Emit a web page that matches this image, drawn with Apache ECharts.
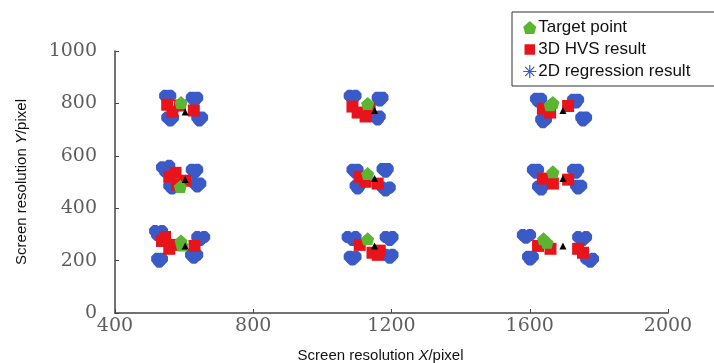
<!DOCTYPE html>
<html>
<head>
<meta charset="utf-8">
<script src="https://cdn.jsdelivr.net/npm/echarts@6/dist/echarts.min.js"></script>
<style>
  html, body { margin: 0; padding: 0; background: #fff; }
  #chart { width: 714px; height: 363px; }
</style>
</head>
<body>
<div id="chart"></div>
<script>
// axis ranges
const xTicks = [400, 800, 1200, 1600, 2000];
const yTicks = [0, 200, 400, 600, 800, 1000];

// target points (green)
const targetPoints = [
  [591, 803],
  [589, 483],
  [591, 275], [594, 260],
  [1131, 800],
  [1131, 532],
  [1131, 283],
  [1667, 803], [1659, 795],
  [1667, 539],
  [1640, 283], [1650, 270]
];

// cluster centres (black triangles)
const centerMarks = [
  [603, 767], [603, 510], [603, 256],
  [1151, 773], [1151, 513], [1151, 256],
  [1696, 773], [1696, 513], [1696, 256]
];

// 3D HVS result (red squares)
const hvsPoints = [
  [551, 795], [566, 768], [588, 792], [628, 773],
  [557, 520], [580, 490], [603, 505], [575, 535],
  [536, 275], [557, 245], [574, 260], [630, 256], [545, 290],
  [1087, 788], [1102, 765], [1125, 750], [1137, 780],
  [1108, 520], [1125, 501], [1160, 494],
  [1108, 260], [1145, 230], [1166, 238], [1160, 222],
  [1638, 780], [1659, 765], [1711, 790],
  [1638, 513], [1667, 494], [1711, 509],
  [1624, 256], [1740, 245], [1754, 230], [1660, 245]
];

// 2D regression result (blue asterisks)
const regressionPoints = [
  // x~600, y~780
  [545, 829], [560, 829], [551, 818],
  [622, 822], [638, 822], [630, 811],
  [551, 746], [568, 746], [560, 735],
  [638, 746], [652, 746], [644, 735],
  // x~600, y~515
  [536, 556], [557, 562], [545, 540], [560, 545],
  [622, 547], [638, 547], [630, 535],
  [557, 486], [572, 486], [565, 475],
  [630, 494], [647, 494], [638, 483],
  // x~600, y~260
  [516, 313], [536, 313], [522, 298], [540, 298],
  [638, 290], [658, 290], [647, 279],
  [522, 207], [536, 207], [528, 196],
  [620, 222], [638, 222], [628, 211],
  // x~1150, y~780
  [1079, 829], [1096, 829], [1087, 818],
  [1160, 822], [1174, 822], [1166, 811],
  [1151, 750], [1166, 750], [1160, 739],
  // x~1150, y~515
  [1087, 547], [1102, 547], [1096, 535],
  [1174, 550], [1189, 550], [1183, 539],
  [1096, 486], [1108, 486], [1102, 475],
  [1174, 479], [1195, 479], [1183, 468],
  // x~1150, y~260
  [1073, 290], [1096, 290], [1087, 279],
  [1183, 290], [1203, 290], [1195, 279],
  [1079, 215], [1096, 215], [1087, 204],
  [1183, 222], [1203, 222], [1195, 211],
  // x~1700, y~780
  [1618, 818], [1633, 818], [1624, 807],
  [1725, 814], [1740, 814], [1734, 803],
  [1749, 746], [1763, 746], [1754, 735],
  [1633, 739], [1647, 739], [1638, 728],
  // x~1700, y~515
  [1609, 547], [1624, 547], [1618, 535],
  [1725, 547], [1740, 547], [1734, 535],
  [1624, 483], [1638, 483], [1633, 471],
  [1734, 486], [1749, 486], [1740, 475],
  // x~1700, y~260
  [1580, 298], [1601, 298], [1589, 287],
  [1740, 290], [1763, 290], [1754, 279],
  [1595, 215], [1609, 215], [1601, 204],
  [1763, 207], [1783, 207], [1775, 196]
];

const pentagon = 'path://M5,0 L10,4.5 L8.5,10 L1.5,10 L0,4.5 Z';
const asterisk = 'path://M0,5 L10,5 M5,0 L5,10 M1.5,1.5 L8.5,8.5 M8.5,1.5 L1.5,8.5';

const chart = echarts.init(document.getElementById('chart'));

const tickFont = {
  fontFamily: '"DejaVu Serif", serif',
  fontSize: 19,
  color: '#5e5e5e',
  formatter: v => String(v)
};
const nameRich = {
  a: { fontFamily: '"Liberation Sans", Arial, sans-serif', fontSize: 15, color: '#111' },
  i: { fontFamily: '"Liberation Sans", Arial, sans-serif', fontSize: 15, color: '#111', fontStyle: 'italic' }
};

const option = {
  animation: false,
  grid: { left: 115, right: 46, top: 51, bottom: 50, outerBoundsMode: 'none', containLabel: false },
  legend: {
    orient: 'vertical',
    left: 512,
    top: 12,
    padding: [7, 120, 6, 10],
    itemGap: 5,
    itemWidth: 13,
    itemHeight: 13,
    backgroundColor: '#fff',
    borderColor: '#333',
    borderWidth: 1,
    textStyle: { fontFamily: '"Liberation Sans", Arial, sans-serif', fontSize: 17, color: '#111', padding: [0, 0, 0, -3] },
    data: [
      { name: 'Target point', icon: pentagon, itemStyle: { color: '#5bb531' } },
      { name: '3D HVS result', icon: 'rect', itemStyle: { color: '#e8141c', borderColor: '#fff', borderWidth: 2.5 } },
      { name: '2D regression result', icon: asterisk, itemStyle: { color: 'transparent', borderColor: '#3a5bc7', borderWidth: 1.2 } }
    ]
  },
  xAxis: {
    type: 'value',
    min: xTicks[0],
    max: xTicks[xTicks.length - 1],
    interval: 400,
    name: '{a|Screen resolution }{i|X}{a|/pixel}',
    nameLocation: 'middle',
    nameGap: 35,
    nameTextStyle: { rich: nameRich, padding: [0, 22, 0, 0] },
    axisLine: { lineStyle: { color: '#444', width: 1.5 } },
    axisTick: { inside: true, length: 4, lineStyle: { color: '#444' } },
    axisLabel: Object.assign({ margin: 4 }, tickFont),
    splitLine: { show: false }
  },
  yAxis: {
    type: 'value',
    min: yTicks[0],
    max: yTicks[yTicks.length - 1],
    interval: 200,
    name: '{a|Screen resolution }{i|Y}{a|/pixel}',
    nameLocation: 'middle',
    nameGap: 86,
    nameRotate: 90,
    nameTextStyle: { rich: nameRich },
    axisLine: { show: true, lineStyle: { color: '#444', width: 1.5 } },
    axisTick: { show: true, inside: true, length: 4, lineStyle: { color: '#444' } },
    axisLabel: Object.assign({ margin: 18 }, tickFont),
    splitLine: { show: false }
  },
  series: [
    {
      name: '2D regression result',
      type: 'scatter',
      symbol: asterisk,
      symbolSize: 12,
      z: 2,
      itemStyle: { color: 'transparent', borderColor: '#3a5bc7', borderWidth: 4.5, opacity: 1 },
      data: regressionPoints
    },
    {
      name: '3D HVS result',
      type: 'scatter',
      symbol: 'rect',
      symbolSize: 12,
      z: 3,
      itemStyle: { color: '#e8141c', opacity: 1 },
      data: hvsPoints
    },
    {
      name: 'Target point',
      type: 'scatter',
      symbol: pentagon,
      symbolSize: 13,
      z: 4,
      itemStyle: { color: '#5bb531', opacity: 1 },
      data: targetPoints
    },
    {
      name: 'centre',
      type: 'scatter',
      symbol: 'triangle',
      symbolSize: 7,
      z: 5,
      itemStyle: { color: '#000', opacity: 1 },
      data: centerMarks
    }
  ]
};

chart.setOption(option);
</script>
</body>
</html>
